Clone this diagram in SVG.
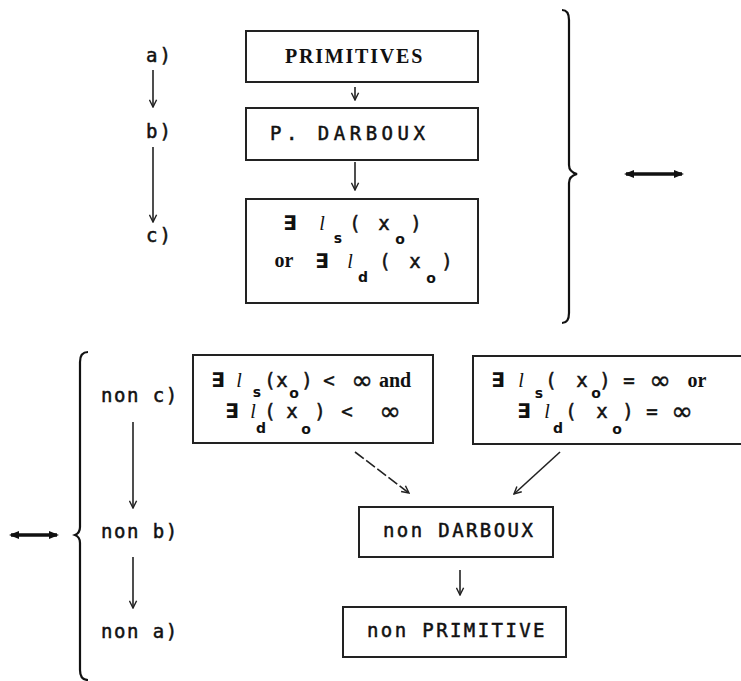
<svg xmlns="http://www.w3.org/2000/svg" width="741" height="681" viewBox="0 0 741 681">
<defs>
<style>
.box{fill:#fff;stroke:#222;stroke-width:2}
.ln{fill:none;stroke:#222;stroke-width:1.6}
.thick{fill:none;stroke:#111;stroke-width:3.5}
.brace{fill:none;stroke:#111;stroke-width:2.2}
.mono{font-family:"DejaVu Sans Mono","Liberation Mono",monospace;font-size:19px;fill:#111;stroke:#111;stroke-width:0.5}
.big{font-family:"DejaVu Sans Mono","Liberation Mono",monospace;font-size:19px;fill:#111;stroke:#111;stroke-width:0.5}
.bs{font-family:"Liberation Serif",serif;font-weight:bold;fill:#111}
.m{font-family:"DejaVu Sans Mono","Liberation Mono",monospace;font-size:19px;fill:#111;stroke:#111;stroke-width:0.5;text-anchor:middle}
.ex{font-family:"DejaVu Sans",sans-serif;font-size:20px;font-weight:bold;fill:#111;text-anchor:middle}
.inf{font-family:"DejaVu Sans",sans-serif;font-size:26px;fill:#111;stroke:#111;stroke-width:0.4;text-anchor:middle}
.ell{font-family:"Liberation Serif",serif;font-style:italic;font-size:20px;fill:#111;text-anchor:middle}
.sub{font-family:"DejaVu Sans",sans-serif;font-weight:bold;font-size:14px;fill:#111;text-anchor:middle}
.kw{font-family:"Liberation Serif",serif;font-weight:bold;font-size:20px;fill:#111;text-anchor:middle}
</style>
<marker id="v" viewBox="0 0 10 10" refX="9" refY="5" markerWidth="9" markerHeight="9" markerUnits="userSpaceOnUse" orient="auto">
<path d="M1,1 L9,5 L1,9" fill="none" stroke="#222" stroke-width="1.6"/>
</marker>
<marker id="tri" viewBox="0 0 10 10" refX="8" refY="5" markerWidth="10" markerHeight="10" markerUnits="userSpaceOnUse" orient="auto-start-reverse">
<path d="M0,1 L10,5 L0,9 z" fill="#111"/>
</marker>
</defs>

<g id="connectors">
<line class="ln" x1="153" y1="70" x2="153" y2="107" marker-end="url(#v)"/>
<line class="ln" x1="153" y1="147" x2="153" y2="222" marker-end="url(#v)"/>
<line class="ln" x1="355" y1="87" x2="355" y2="100" marker-end="url(#v)"/>
<line class="ln" x1="355" y1="162" x2="355" y2="190" marker-end="url(#v)"/>
<line class="ln" x1="133" y1="422" x2="133" y2="508" marker-end="url(#v)"/>
<line class="ln" x1="133" y1="557" x2="133" y2="608" marker-end="url(#v)"/>
<line class="ln" x1="355" y1="452" x2="409" y2="493" stroke-dasharray="11,3" marker-end="url(#v)"/>
<line class="ln" x1="560" y1="452" x2="514" y2="494" marker-end="url(#v)"/>
<line class="ln" x1="460" y1="570" x2="460" y2="595" marker-end="url(#v)"/>
<line class="thick" x1="626" y1="174" x2="682" y2="174" marker-start="url(#tri)" marker-end="url(#tri)"/>
<line class="thick" x1="11" y1="535" x2="57" y2="535" marker-start="url(#tri)" marker-end="url(#tri)"/>
<path class="brace" d="M562,10 Q569,10 569,20 L569,165 Q569,172 577,174 Q569,176 569,183 L569,313 Q569,323 562,323"/>
<path class="brace" d="M88,352 Q80,352 80,362 L80,527 Q80,533 75,535 Q80,537 80,543 L80,670 Q80,680 88,680"/>
</g>

<g id="labels">
<text class="mono" x="146" y="62" letter-spacing="2">a)</text>
<text class="mono" x="146" y="138" letter-spacing="2">b)</text>
<text class="mono" x="146" y="242" letter-spacing="2">c)</text>
<text class="mono" x="101" y="402" letter-spacing="1.5">non c)</text>
<text class="mono" x="101" y="538" letter-spacing="1.5">non b)</text>
<text class="mono" x="101" y="638" letter-spacing="1.5">non a)</text>
</g>

<g id="primitives">
<rect class="box" x="246" y="31" width="232" height="51"/>
<text class="bs" x="285" y="63" font-size="20" letter-spacing="1.8">PRIMITIVES</text>
</g>

<g id="p-darboux">
<rect class="box" x="246" y="108" width="232" height="52"/>
<text class="big" x="270" y="140" letter-spacing="4.5">P. DARBOUX</text>
</g>

<g id="exists-limit">
<rect class="box" x="246" y="199" width="232" height="104"/>
<text class="ex" x="290" y="230">∃</text>
<text class="ell" x="322" y="230">l</text>
<text class="sub" x="338" y="243">s</text>
<text class="m" x="355" y="230">(</text>
<text class="m" x="384" y="230">x</text>
<text class="sub" x="400" y="244">o</text>
<text class="m" x="416" y="230">)</text>
<text class="kw" x="284" y="267">or</text>
<text class="ex" x="322" y="268">∃</text>
<text class="ell" x="350" y="268">l</text>
<text class="sub" x="363" y="282">d</text>
<text class="m" x="385" y="268">(</text>
<text class="m" x="415" y="268">x</text>
<text class="sub" x="431" y="283">o</text>
<text class="m" x="447" y="268">)</text>
</g>

<g id="finite-limits">
<rect class="box" x="193" y="355" width="240" height="88"/>
<text class="ex" x="218" y="387">∃</text>
<text class="ell" x="239" y="387">l</text>
<text class="sub" x="257" y="397">s</text>
<text class="m" x="270" y="387">(</text>
<text class="m" x="282" y="387">x</text>
<text class="sub" x="294" y="398">o</text>
<text class="m" x="307" y="387">)</text>
<text class="m" x="329" y="387">&lt;</text>
<text class="inf" x="362" y="389">∞</text>
<text class="kw" x="395" y="387">and</text>
<text class="ex" x="232" y="418">∃</text>
<text class="ell" x="253" y="418">l</text>
<text class="sub" x="261" y="433">d</text>
<text class="m" x="270" y="418">(</text>
<text class="m" x="292" y="418">x</text>
<text class="sub" x="306" y="434">o</text>
<text class="m" x="320" y="418">)</text>
<text class="m" x="347" y="418">&lt;</text>
<text class="inf" x="390" y="420">∞</text>
</g>

<g id="infinite-limits">
<rect class="box" x="473" y="356" width="280" height="88"/>
<text class="ex" x="498" y="387">∃</text>
<text class="ell" x="521" y="387">l</text>
<text class="sub" x="539" y="398">s</text>
<text class="m" x="551" y="387">(</text>
<text class="m" x="582" y="387">x</text>
<text class="sub" x="596" y="398">o</text>
<text class="m" x="605" y="387">)</text>
<text class="m" x="629" y="387">=</text>
<text class="inf" x="660" y="389">∞</text>
<text class="kw" x="697" y="387">or</text>
<text class="ex" x="524" y="418">∃</text>
<text class="ell" x="547" y="418">l</text>
<text class="sub" x="558" y="433">d</text>
<text class="m" x="571" y="418">(</text>
<text class="m" x="602" y="418">x</text>
<text class="sub" x="617" y="434">o</text>
<text class="m" x="628" y="418">)</text>
<text class="m" x="652" y="418">=</text>
<text class="inf" x="682" y="420">∞</text>
</g>

<g id="non-darboux">
<rect class="box" x="359" y="507" width="194" height="50"/>
<text class="big" x="383" y="537" letter-spacing="2.4">non DARBOUX</text>
</g>

<g id="non-primitive">
<rect class="box" x="343" y="607" width="223" height="50"/>
<text class="big" x="367" y="637" letter-spacing="2.4">non PRIMITIVE</text>
</g>
</svg>
